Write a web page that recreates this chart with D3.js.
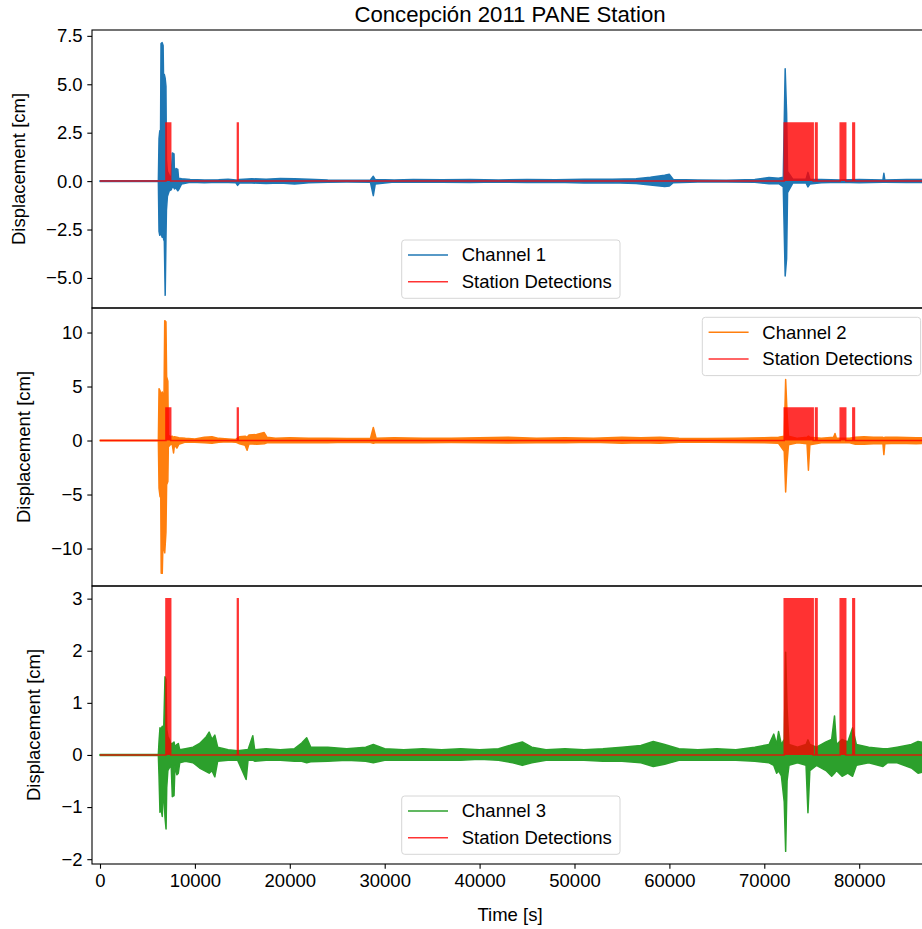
<!DOCTYPE html>
<html>
<head>
<meta charset="utf-8">
<script src="https://cdn.jsdelivr.net/npm/d3@7"></script>
<style>
  body { margin: 0; background: #fff; }
  text { font-family: "Liberation Sans", Arial, sans-serif; fill: #000; }
</style>
</head>
<body>
<svg id="chart"></svg>
<script>
// Envelope of each channel: [time (s), upper, lower] in cm
const channel1 = [
  [0, 0.02, -0.02], [6150, 0.02, -0.02], [6220, 2.2, -2.6], [6300, 2.6, -2.8],
  [6380, 2.4, -2.5], [6430, 7.1, -2.7], [6550, 7.15, -2.9], [6650, 7.0, -2.6],
  [6700, 5.2, -3.0], [6780, 5.5, -3.1], [6870, 5.3, -5.9], [6950, 4.9, -3.0],
  [7000, 1.1, -1.5], [7100, 0.5, -0.8], [7300, 0.3, -0.5], [7500, 0.15, -0.45],
  [7620, 1.45, -0.3], [7800, 1.4, -0.35], [7850, 0.2, -0.4], [8000, 0.65, -0.35],
  [8200, 0.6, -0.5], [8280, 0.15, -0.45], [8600, 0.12, -0.15], [9500, 0.08, -0.06],
  [11000, 0.06, -0.08], [12500, 0.07, -0.06], [13500, 0.1, -0.07], [14300, 0.06, -0.08],
  [14500, 0.05, -0.22], [14700, 0.08, -0.1], [16000, 0.12, -0.1], [17500, 0.1, -0.12],
  [19000, 0.14, -0.1], [20500, 0.12, -0.15], [22000, 0.1, -0.08], [24000, 0.06, -0.06],
  [26000, 0.05, -0.05], [28500, 0.06, -0.06], [28800, 0.25, -0.75], [29000, 0.08, -0.15],
  [31000, 0.06, -0.05], [33000, 0.08, -0.06], [36000, 0.07, -0.06], [39000, 0.08, -0.07],
  [42000, 0.06, -0.05], [45000, 0.08, -0.07], [48000, 0.07, -0.06], [51000, 0.1, -0.1],
  [54000, 0.09, -0.08], [56500, 0.12, -0.12], [58000, 0.2, -0.2], [59500, 0.3, -0.28],
  [60000, 0.35, -0.25], [60400, 0.08, -0.08], [63000, 0.06, -0.05], [66000, 0.05, -0.05],
  [69000, 0.08, -0.06], [70500, 0.18, -0.14], [71500, 0.15, -0.12], [72000, 0.2, -0.3],
  [72200, 5.8, -4.9], [72350, 3.5, -4.0], [72450, 0.5, -0.6], [73000, 0.1, -0.1],
  [74400, 0.1, -0.1], [74600, 0.45, -0.3], [74800, 0.1, -0.15], [76000, 0.08, -0.08],
  [78000, 0.06, -0.06], [80000, 0.08, -0.08], [82500, 0.06, -0.06], [82600, 0.4, -0.05],
  [82700, 0.06, -0.06], [85000, 0.08, -0.07], [87200, 0.08, -0.07]
];

const channel2 = [
  [0, 0.02, -0.02], [6150, 0.02, -0.02], [6220, 4.8, -4.4], [6330, 4.6, -5.2],
  [6400, 4.2, -4.9], [6450, 4.3, -12.3], [6560, 4.5, -12.3], [6650, 4.2, -9.0],
  [6750, 4.4, -10.0], [6820, 11.1, -10.4], [6950, 11.0, -8.5], [7020, 5.9, -4.1],
  [7150, 5.5, -3.8], [7200, 0.5, -0.6], [7400, 0.35, -0.4], [7600, 0.4, -0.3],
  [7750, 0.3, -1.15], [7850, 0.35, -0.4], [8100, 0.3, -0.7], [8300, 0.25, -0.35],
  [9000, 0.2, -0.15], [10000, 0.15, -0.15], [11000, 0.3, -0.2], [11800, 0.35, -0.25],
  [12500, 0.2, -0.15], [13500, 0.15, -0.12], [14300, 0.1, -0.15], [14700, 0.35, -0.3],
  [15300, 0.4, -0.45], [15500, 0.3, -0.9], [15700, 0.5, -0.3], [16500, 0.55, -0.35],
  [17300, 0.74, -0.3], [17600, 0.3, -0.2], [18500, 0.2, -0.2], [20000, 0.25, -0.2],
  [22000, 0.2, -0.18], [24000, 0.22, -0.2], [26000, 0.18, -0.15], [28500, 0.2, -0.18],
  [28800, 1.2, -0.25], [29100, 0.2, -0.18], [31000, 0.25, -0.2], [34000, 0.2, -0.2],
  [37000, 0.22, -0.18], [40000, 0.25, -0.2], [43000, 0.3, -0.22], [46000, 0.22, -0.2],
  [49000, 0.25, -0.2], [52000, 0.2, -0.15], [55000, 0.3, -0.25], [57000, 0.25, -0.2],
  [59000, 0.3, -0.25], [61000, 0.2, -0.15], [64000, 0.18, -0.15], [67000, 0.2, -0.18],
  [70000, 0.25, -0.2], [71500, 0.3, -0.25], [72100, 0.4, -1.0], [72250, 5.65, -4.76],
  [72400, 2.5, -2.0], [72550, 0.4, -0.4], [73500, 0.2, -0.2], [74500, 0.3, -0.3],
  [74650, 0.4, -2.75], [74800, 0.3, -0.4], [76000, 0.2, -0.2], [77300, 0.3, -0.2],
  [77450, 0.65, -0.2], [77600, 0.2, -0.2], [79000, 0.2, -0.2], [79600, 0.3, -0.35],
  [80500, 0.35, -0.35], [81500, 0.3, -0.3], [82500, 0.3, -0.3], [82600, 0.25, -1.3],
  [82700, 0.3, -0.3], [84000, 0.3, -0.25], [86000, 0.25, -0.3], [87200, 0.25, -0.25]
];

const channel3 = [
  [0, 0.01, -0.01], [6150, 0.01, -0.01], [6220, 0.26, -0.41], [6320, 0.52, -1.1],
  [6450, 0.5, -1.05], [6560, 0.55, -1.18], [6700, 0.4, -0.6], [6850, 1.5, -1.2],
  [6960, 1.45, -1.42], [7030, 0.5, -0.63], [7150, 0.36, -0.3], [7300, 0.3, -0.25],
  [7500, 0.2, -0.2], [7620, 0.22, -0.8], [7800, 0.25, -0.78], [7900, 0.15, -0.2],
  [8100, 0.2, -0.38], [8250, 0.22, -0.35], [8400, 0.1, -0.15], [9000, 0.12, -0.12],
  [9800, 0.15, -0.15], [10500, 0.22, -0.25], [11200, 0.35, -0.32], [11500, 0.44, -0.35],
  [11800, 0.3, -0.3], [12100, 0.38, -0.42], [12400, 0.15, -0.12], [13500, 0.1, -0.1],
  [14500, 0.08, -0.1], [15400, 0.1, -0.47], [15600, 0.1, -0.1], [16100, 0.37, -0.1],
  [16300, 0.1, -0.12], [17500, 0.12, -0.1], [19000, 0.1, -0.1], [20500, 0.12, -0.12],
  [21250, 0.23, -0.12], [21780, 0.33, -0.15], [22200, 0.15, -0.13], [24000, 0.15, -0.12],
  [26000, 0.12, -0.1], [28000, 0.15, -0.12], [28800, 0.2, -0.15], [30000, 0.12, -0.1],
  [32000, 0.1, -0.1], [34000, 0.12, -0.1], [36000, 0.1, -0.1], [38000, 0.12, -0.1],
  [40000, 0.1, -0.08], [42000, 0.12, -0.1], [43500, 0.2, -0.15], [44500, 0.25, -0.2],
  [45500, 0.15, -0.15], [47000, 0.1, -0.1], [49000, 0.12, -0.1], [51000, 0.1, -0.1],
  [53000, 0.12, -0.12], [55000, 0.15, -0.12], [57000, 0.18, -0.15], [58300, 0.26, -0.22],
  [59500, 0.2, -0.18], [61000, 0.12, -0.1], [63000, 0.1, -0.1], [65000, 0.12, -0.1],
  [67000, 0.1, -0.1], [69000, 0.15, -0.12], [70500, 0.2, -0.15], [71000, 0.4, -0.2],
  [71300, 0.2, -0.35], [71500, 0.45, -0.3], [71800, 0.2, -0.4], [72100, 0.3, -0.9],
  [72250, 1.97, -1.85], [72400, 0.9, -0.5], [72600, 0.2, -0.2], [73500, 0.15, -0.15],
  [74400, 0.2, -0.2], [74600, 0.29, -1.11], [74800, 0.2, -0.3], [75500, 0.15, -0.2],
  [76500, 0.25, -0.3], [77100, 0.3, -0.41], [77400, 0.75, -0.35], [77600, 0.2, -0.3],
  [78200, 0.3, -0.41], [78800, 0.25, -0.35], [79300, 0.52, -0.41], [79700, 0.2, -0.2],
  [81000, 0.15, -0.15], [82500, 0.12, -0.22], [83000, 0.12, -0.15], [84000, 0.15, -0.15],
  [85500, 0.2, -0.25], [86200, 0.26, -0.35], [87200, 0.22, -0.3]
];

// Station detection windows (s), drawn at height 3
const detStart = [6950, 14480, 72100, 75400, 78000, 79330];
const detEnd = [7450, 14560, 75150, 75560, 78580, 79500];
const detLevel = 3;
const timeEnd = 87200;

const channelNames = ["Channel 1", "Channel 2", "Channel 3"];
const channelColors = ["#1f77b4", "#ff7f0e", "#2ca02c"];
const yTicks = [
  [-5, -2.5, 0, 2.5, 5, 7.5],
  [-10, -5, 0, 5, 10],
  [-2, -1, 0, 1, 2, 3]
];
const yTickFormats = [".1f", "d", "d"];
const xTicks = [0, 10000, 20000, 30000, 40000, 50000, 60000, 70000, 80000];

const width = 922;
const height = 929;
const plotLeft = 92;
const plotRight = 928;
const panelTop = 30;
const panelHeight = 278;
const fontSize = 18.5;

const svg = d3.select("#chart").attr("width", width).attr("height", height);

const xScale = d3.scaleLinear().domain([-843, 87250]).range([plotLeft, plotRight]);

// Detection step trace
const detPoints = [[0, 0]];
detStart.forEach((s, i) => {
  detPoints.push([s, 0], [s, detLevel], [detEnd[i], detLevel], [detEnd[i], 0]);
});
detPoints.push([timeEnd, 0]);

const channels = [channel1, channel2, channel3];
const legendPos = [
  { x: 401.7, y: 240 },
  { x: 702.3, y: 317.3 },
  { x: 401.7, y: 796 }
];
const ylabelX = [25, 30, 40];

channels.forEach((data, i) => {
  const top = panelTop + i * panelHeight;
  const bottom = top + panelHeight;

  // y domain with matplotlib-like 5% margin
  const lo = Math.min(d3.min(data, (d) => d[2]), 0);
  const hi = Math.max(d3.max(data, (d) => d[1]), detLevel);
  const pad = (hi - lo) * 0.05;
  const yScale = d3.scaleLinear().domain([lo - pad, hi + pad]).range([bottom, top]);

  const g = svg.append("g");

  g.append("clipPath")
    .attr("id", "clip" + i)
    .append("rect")
    .attr("x", plotLeft)
    .attr("y", top)
    .attr("width", plotRight - plotLeft)
    .attr("height", panelHeight);

  const plot = g.append("g").attr("clip-path", "url(#clip" + i + ")");

  // Channel envelope
  const area = d3
    .area()
    .x((d) => xScale(d[0]))
    .y0((d) => yScale(d[2]))
    .y1((d) => yScale(d[1]));

  plot
    .append("path")
    .datum(data)
    .attr("d", area)
    .attr("fill", channelColors[i])
    .attr("stroke", channelColors[i])
    .attr("stroke-width", 1.5)
    .attr("stroke-linejoin", "round");

  // Detections
  const det = plot.append("g").attr("opacity", 0.8);
  det
    .append("path")
    .datum(detPoints)
    .attr(
      "d",
      d3
        .area()
        .x((d) => xScale(d[0]))
        .y0(yScale(0))
        .y1((d) => yScale(d[1]))
    )
    .attr("fill", "red");
  det
    .append("path")
    .datum(detPoints)
    .attr(
      "d",
      d3
        .line()
        .x((d) => xScale(d[0]))
        .y((d) => yScale(d[1]))
    )
    .attr("fill", "none")
    .attr("stroke", "red")
    .attr("stroke-width", 1.5);

  // Frame
  g.append("rect")
    .attr("x", plotLeft)
    .attr("y", top)
    .attr("width", plotRight - plotLeft)
    .attr("height", panelHeight)
    .attr("fill", "none")
    .attr("stroke", "#000")
    .attr("stroke-width", 1.1);

  // y axis
  const yAxis = g
    .append("g")
    .attr("transform", "translate(" + plotLeft + ",0)")
    .call(
      d3
        .axisLeft(yScale)
        .tickValues(yTicks[i])
        .tickFormat(d3.format(yTickFormats[i]))
        .tickSize(4.7)
        .tickPadding(4.7)
    );
  yAxis.select(".domain").remove();
  yAxis.selectAll("line").attr("stroke", "#000").attr("stroke-width", 1.1);
  yAxis
    .selectAll("text")
    .attr("font-size", fontSize)
    .attr("font-family", "Liberation Sans, Arial, sans-serif")
    .attr("fill", "#000");

  g.append("text")
    .attr("transform", "translate(" + ylabelX[i] + "," + (top + panelHeight / 2) + ") rotate(-90)")
    .attr("text-anchor", "middle")
    .attr("font-size", fontSize)
    .text("Displacement [cm]");

  // x axis only on the bottom panel
  if (i === channels.length - 1) {
    const xAxis = g
      .append("g")
      .attr("transform", "translate(0," + bottom + ")")
      .call(
        d3
          .axisBottom(xScale)
          .tickValues(xTicks)
          .tickFormat(d3.format("d"))
          .tickSize(4.7)
          .tickPadding(4.7)
      );
    xAxis.select(".domain").remove();
    xAxis.selectAll("line").attr("stroke", "#000").attr("stroke-width", 1.1);
    xAxis
      .selectAll("text")
      .attr("font-size", fontSize)
      .attr("font-family", "Liberation Sans, Arial, sans-serif")
      .attr("fill", "#000");
  }

  // Legend
  const lp = legendPos[i];
  const legend = g.append("g").attr("transform", "translate(" + lp.x + "," + lp.y + ")");
  legend
    .append("rect")
    .attr("width", 218.3)
    .attr("height", 58.3)
    .attr("rx", 3)
    .attr("fill", "rgba(255,255,255,0.8)")
    .attr("stroke", "#d6d6d6")
    .attr("stroke-width", 1);
  const entries = [
    { label: channelNames[i], color: channelColors[i], opacity: 1 },
    { label: "Station Detections", color: "red", opacity: 0.8 }
  ];
  entries.forEach((e, k) => {
    const ey = 15 + k * 26.7;
    legend
      .append("line")
      .attr("x1", 6.3)
      .attr("x2", 46.3)
      .attr("y1", ey)
      .attr("y2", ey)
      .attr("stroke", e.color)
      .attr("stroke-opacity", e.opacity)
      .attr("stroke-width", 1.5);
    legend
      .append("text")
      .attr("x", 60)
      .attr("y", ey)
      .attr("dy", "0.35em")
      .attr("font-size", fontSize)
      .text(e.label);
  });
});

// Title and x label
svg
  .append("text")
  .attr("x", (plotLeft + plotRight) / 2)
  .attr("y", 22)
  .attr("text-anchor", "middle")
  .attr("font-size", 22.2)
  .text("Concepción 2011 PANE Station");

svg
  .append("text")
  .attr("x", (plotLeft + plotRight) / 2)
  .attr("y", 921)
  .attr("text-anchor", "middle")
  .attr("font-size", fontSize)
  .text("Time [s]");
</script>
</body>
</html>
